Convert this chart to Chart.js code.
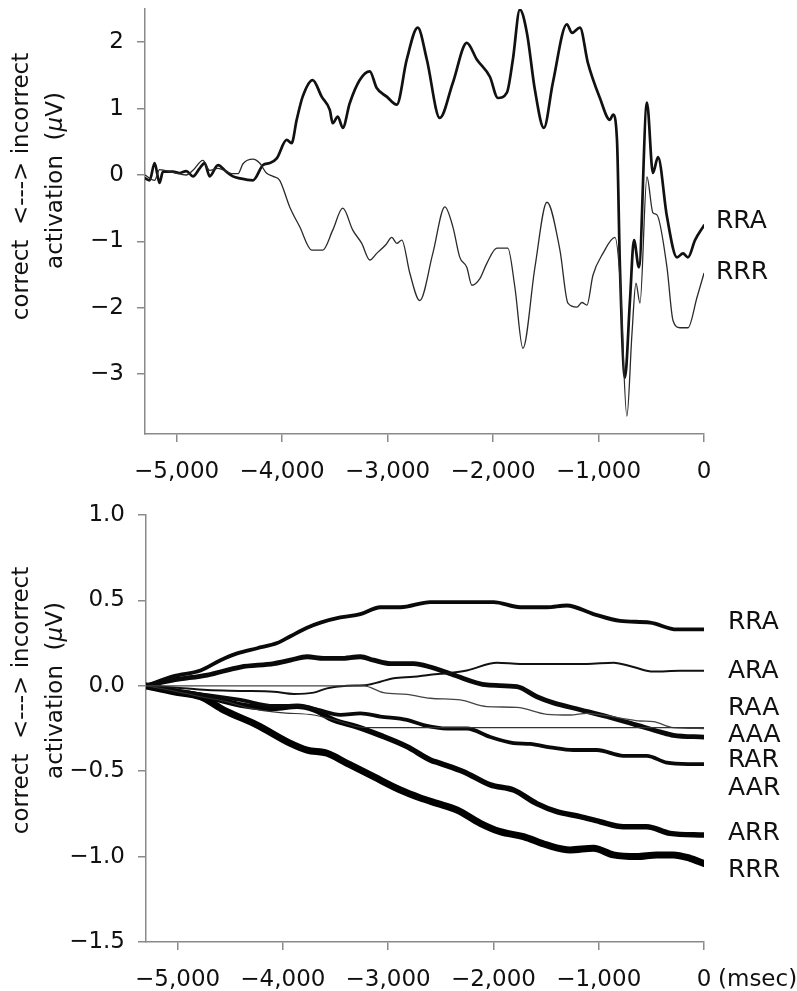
<!DOCTYPE html>
<html><head><meta charset="utf-8">
<script src="https://cdn.jsdelivr.net/npm/chart.js@4.4.1/dist/chart.umd.min.js"></script>
<style>
html,body{margin:0;padding:0;background:#fff;}
#wrap{position:relative;width:797px;height:991px;}
canvas{position:absolute;left:0;}
#c1{top:0;}
#c2{top:495px;}
</style></head><body>
<div id="wrap"><canvas id="c1" width="797" height="495"></canvas><canvas id="c2" width="797" height="496"></canvas></div>
<script>
// ---------- Top panel (msec, µV) ----------
const topTimeRRA = [-5300,-5256,-5209,-5162,-5130,-5035,-4972,-4909,-4845,-4782,-4735,-4687,-4608,-4529,-4466,-4402,-4276,-4181,-4118,-4051,-3957,-3910,-3862,-3805,-3710,-3625,-3548,-3520,-3472,-3425,-3359,-3264,-3169,-3103,-3008,-2913,-2818,-2714,-2628,-2505,-2381,-2249,-2154,-2030,-1954,-1869,-1812,-1746,-1679,-1603,-1518,-1433,-1300,-1252,-1176,-1101,-987,-892,-863,-825,-797,-750,-702,-664,-617,-541,-484,-436,-351,-256,-199,-152,-85,0];
const topValRRA = [-0.05,-0.08,0.18,-0.12,0.05,0.05,0.03,0.06,-0.02,0.10,0.18,-0.02,0.15,0.05,-0.02,-0.05,-0.08,0.15,0.18,0.25,0.53,0.48,0.83,1.18,1.43,1.18,0.98,0.78,0.88,0.71,1.08,1.43,1.56,1.31,1.18,1.06,1.74,2.22,1.74,0.86,1.39,1.99,1.74,1.48,1.16,1.24,1.74,2.49,2.14,1.28,0.71,1.39,2.27,2.14,2.22,1.69,1.16,0.83,0.91,0.53,-1.39,-3.05,-1.89,-0.98,-1.39,1.09,0.03,0.27,-0.63,-1.24,-1.18,-1.24,-0.98,-0.76];
const topTimeRRR = [-5300,-5209,-5162,-5035,-4909,-4845,-4751,-4687,-4608,-4466,-4418,-4371,-4276,-4213,-4149,-4086,-4023,-3928,-3833,-3719,-3615,-3520,-3425,-3330,-3245,-3169,-3103,-3017,-2960,-2913,-2865,-2789,-2695,-2571,-2457,-2381,-2315,-2249,-2201,-2125,-2059,-1964,-1860,-1793,-1717,-1603,-1489,-1366,-1290,-1205,-1158,-1110,-1053,-958,-844,-797,-731,-683,-645,-607,-541,-484,-446,-351,-294,-228,-152,-66,0];
const topValRRR = [0.0,-0.08,0.08,0.04,0.0,0.07,0.22,0.07,0.10,0.02,0.02,0.17,0.24,0.18,0.03,-0.02,-0.08,-0.48,-0.78,-1.13,-1.13,-0.83,-0.50,-0.83,-1.03,-1.28,-1.18,-1.05,-0.94,-1.03,-0.98,-1.48,-1.89,-1.18,-0.48,-0.78,-1.24,-1.39,-1.66,-1.56,-1.33,-1.10,-1.10,-1.69,-2.61,-1.39,-0.41,-1.13,-1.93,-1.99,-1.92,-1.96,-1.51,-1.18,-0.94,-1.54,-3.63,-2.39,-1.63,-1.93,-0.03,-0.57,-0.60,-1.39,-2.19,-2.30,-2.30,-1.84,-1.48];
const topLabels = ['RRA','RRR'];
const topLabelPos = [-0.70,-1.47];
const topYTicks = [-3,-2,-1,0,1,2];

// ---------- Bottom panel ----------
const botTimeRRA = [-5300,-5035,-4782,-4592,-4434,-4244,-4054,-3928,-3770,-3643,-3454,-3264,-3074,-2884,-2600,-2505,-2284,-1999,-1746,-1493,-1303,-1050,-797,-512,-259,0];
const botValRRA  = [0,0.057,0.09,0.15,0.19,0.22,0.25,0.29,0.34,0.37,0.40,0.42,0.46,0.46,0.49,0.49,0.49,0.49,0.46,0.46,0.47,0.42,0.38,0.37,0.33,0.33];
const botTimeARA = [-5300,-5035,-4718,-4402,-4086,-3897,-3707,-3580,-3390,-3200,-3074,-2948,-2758,-2600,-2505,-2252,-1967,-1746,-1430,-1113,-860,-671,-481,-228,0];
const botValARA  = [0,-0.01,-0.025,-0.03,-0.035,-0.048,-0.04,-0.015,0,0.005,0.024,0.044,0.053,0.065,0.07,0.09,0.135,0.128,0.128,0.128,0.135,0.11,0.083,0.088,0.088];
const botTimeRAA = [-5300,-4300,-3232,-3043,-2821,-2600,-2315,-2062,-1777,-1493,-1271,-1113,-923,-733,-607,-481,-291,0];
const botValRAA  = [0,0,0,-0.04,-0.05,-0.073,-0.083,-0.122,-0.126,-0.167,-0.171,-0.161,-0.175,-0.195,-0.206,-0.21,-0.245,-0.25];
const botTimeAAA = [-5300,-5035,-4782,-4561,-4307,-4023,-3707,-3454,-3295,-3138,0];
const botValAAA  = [0,-0.03,-0.064,-0.089,-0.132,-0.157,-0.171,-0.21,-0.24,-0.245,-0.245];
const botTimeRAR = [-5300,-5035,-4718,-4402,-4086,-3928,-3770,-3612,-3454,-3264,-3138,-2979,-2758,-2600,-2378,-2062,-1777,-1587,-1430,-1176,-923,-639,-417,-291,0];
const botValRAR  = [0,0.034,0.063,0.11,0.13,0.15,0.17,0.16,0.16,0.17,0.15,0.13,0.13,0.11,0.063,0.005,-0.005,-0.064,-0.10,-0.14,-0.18,-0.23,-0.27,-0.29,-0.30];
const botTimeAAR = [-5300,-5035,-4718,-4402,-4086,-3865,-3675,-3454,-3264,-3074,-2821,-2663,-2441,-2252,-2030,-1809,-1651,-1461,-1240,-1018,-765,-544,-354,-150,0];
const botValAAR  = [0,-0.03,-0.054,-0.083,-0.118,-0.118,-0.14,-0.17,-0.161,-0.18,-0.20,-0.23,-0.25,-0.25,-0.30,-0.335,-0.34,-0.36,-0.376,-0.376,-0.41,-0.41,-0.45,-0.458,-0.458];
const botTimeARR = [-5300,-5035,-4718,-4402,-4086,-3865,-3707,-3517,-3295,-3074,-2821,-2600,-2505,-2284,-2030,-1809,-1588,-1398,-1176,-986,-765,-544,-323,0];
const botValARR  = [0,-0.03,-0.064,-0.112,-0.132,-0.12,-0.14,-0.2,-0.24,-0.29,-0.356,-0.434,-0.454,-0.503,-0.58,-0.61,-0.69,-0.737,-0.766,-0.796,-0.825,-0.825,-0.864,-0.874];
const botTimeRRR = [-5300,-5035,-4782,-4561,-4244,-3928,-3770,-3580,-3390,-3138,-2884,-2700,-2536,-2346,-2125,-1936,-1715,-1493,-1271,-1050,-861,-639,-449,-291,-133,0];
const botValRRR  = [0,-0.035,-0.064,-0.142,-0.23,-0.337,-0.376,-0.395,-0.454,-0.532,-0.61,-0.655,-0.688,-0.727,-0.805,-0.854,-0.883,-0.932,-0.961,-0.951,-0.99,-1.0,-0.99,-0.99,-1.01,-1.04];
const botLabels = ['RRA','ARA','RAA','AAA','RAR','AAR','ARR','RRR'];
const botLabelPos = [0.37,0.085,-0.135,-0.29,-0.437,-0.603,-0.866,-1.083];
const botYTicks = [-1.5,-1.0,-0.5,0,0.5,1.0];

const xTicks = [-5000,-4000,-3000,-2000,-1000,0];
const yTitleLine1 = [['correct  <---> incorrect', '']];
const yTitleLine2 = [['activation  (', ''], ['\u03bc', 'italic '], ['V)', '']];
const unitText = '(msec)';

// ---------- helpers ----------
const FONT = "'DejaVu Sans', sans-serif";
const AXIS = '#8a8a8a';
const XPAD = 16;
Chart.defaults.font.family = FONT;
Chart.defaults.color = '#111';

function series(label, t, v, w, color) {
  return { label, data: t.map((x, i) => ({ x, y: v[i] })), borderColor: color, borderWidth: w,
    pointRadius: 0, cubicInterpolationMode: 'monotone', borderJoinStyle: 'round', borderCapStyle: 'round', fill: false };
}
const minus = s => s.replace('-', '\u2212');
const fmtX = v => v === 0 ? '0' : minus(v.toLocaleString('en-US'));

function drawRich(ctx, parts, cx, cy, size) {
  let total = 0;
  const widths = parts.map(([txt, st]) => { ctx.font = st + size + 'px ' + FONT; const w = ctx.measureText(txt).width; total += w; return w; });
  let x = cx - total / 2;
  ctx.textAlign = 'left'; ctx.textBaseline = 'middle';
  parts.forEach(([txt, st], i) => { ctx.font = st + size + 'px ' + FONT; ctx.fillText(txt, x, cy); x += widths[i]; });
}

const sideText = {
  id: 'sideText',
  afterDraw(chart, args, o) {
    const ctx = chart.ctx, a = chart.chartArea, ys = chart.scales.y, xs = chart.scales.x;
    ctx.save();
    ctx.fillStyle = '#111';
    const mid = (a.top + a.bottom) / 2;
    [yTitleLine1, yTitleLine2].forEach((parts, i) => {
      ctx.save();
      ctx.translate(o.titleX[i], mid + o.titleShift[i]);
      ctx.rotate(-Math.PI / 2);
      drawRich(ctx, parts, 0, 0, 23);
      ctx.restore();
    });
    ctx.font = '25px ' + FONT;
    ctx.textAlign = 'left'; ctx.textBaseline = 'middle';
    o.labels.forEach((lab, i) => ctx.fillText(lab, a.right + o.labelGap, ys.getPixelForValue(o.labelPos[i])));
    if (o.unit) {
      ctx.font = '23px ' + FONT;
      ctx.fillText(o.unit, xs.getPixelForValue(0) + 14, xs.top + 8 + XPAD + 23 * 0.6);
    }
    ctx.restore();
  }
};

function makeOptions(cfg) {
  return {
    responsive: false, animation: false, devicePixelRatio: 1,
    layout: { padding: { top: cfg.padTop, right: 93, left: 0, bottom: 0 } },
    plugins: { legend: { display: false }, tooltip: { enabled: false }, sideText: cfg.side },
    scales: {
      x: {
        type: 'linear', min: -5300, max: 0,
        afterBuildTicks(s) { s.ticks = xTicks.map(v => ({ value: v })); },
        afterFit(s) { s.height = cfg.xHeight; s.paddingLeft = 0; s.paddingRight = 0; },
        ticks: { padding: XPAD, maxRotation: 0, autoSkip: false, font: { size: 23 }, color: '#111', callback: fmtX },
        grid: { drawOnChartArea: false, drawTicks: true, tickLength: 8, color: AXIS, lineWidth: 1.5 },
        border: { display: true, color: AXIS, width: 1.5 }
      },
      y: {
        type: 'linear', min: cfg.yMin, max: cfg.yMax,
        afterBuildTicks(s) { s.ticks = cfg.yTicks.map(v => ({ value: v })); },
        afterFit(s) { s.width = cfg.yWidth; s.paddingTop = 0; s.paddingBottom = 0; },
        ticks: { padding: 13, autoSkip: false, font: { size: 23 }, color: '#111', callback: cfg.yFmt },
        grid: { drawOnChartArea: false, drawTicks: true, tickLength: 8, color: AXIS, lineWidth: 1.5 },
        border: { display: true, color: AXIS, width: 1.5 }
      }
    }
  };
}

new Chart(document.getElementById('c1'), {
  type: 'line',
  data: { datasets: [
    series('RRR', topTimeRRR, topValRRR, 1.3, '#2a2a2a'),
    series('RRA', topTimeRRA, topValRRA, 2.7, '#111')
  ] },
  options: makeOptions({
    padTop: 9, xHeight: 61, yWidth: 145, yMin: -3.9, yMax: 2.5, yTicks: topYTicks,
    yFmt: v => minus(String(v)),
    side: { titleX: [22, 56], titleShift: [-35, -41], labels: topLabels, labelPos: topLabelPos, labelGap: 12, unit: null }
  }),
  plugins: [sideText]
});

new Chart(document.getElementById('c2'), {
  type: 'line',
  data: { datasets: [
    series('AAA', botTimeAAA, botValAAA, 1.1, '#333'),
    series('RAA', botTimeRAA, botValRAA, 1.3, '#444'),
    series('ARA', botTimeARA, botValARA, 2.0, '#111'),
    series('RRA', botTimeRRA, botValRRA, 3.8, '#0a0a0a'),
    series('RAR', botTimeRAR, botValRAR, 4.8, '#0a0a0a'),
    series('AAR', botTimeAAR, botValAAR, 3.8, '#0a0a0a'),
    series('ARR', botTimeARR, botValARR, 5.5, '#050505'),
    series('RRR', botTimeRRR, botValRRR, 7.0, '#000')
  ] },
  options: makeOptions({
    padTop: 20, xHeight: 49, yWidth: 146, yMin: -1.5, yMax: 1.0, yTicks: botYTicks,
    yFmt: v => minus(Math.abs(v) < 1e-9 ? '0.0' : v.toFixed(1)),
    side: { titleX: [22, 56], titleShift: [-28, -38], labels: botLabels, labelPos: botLabelPos, labelGap: 24, unit: unitText }
  }),
  plugins: [sideText]
});
</script>
</body></html>
